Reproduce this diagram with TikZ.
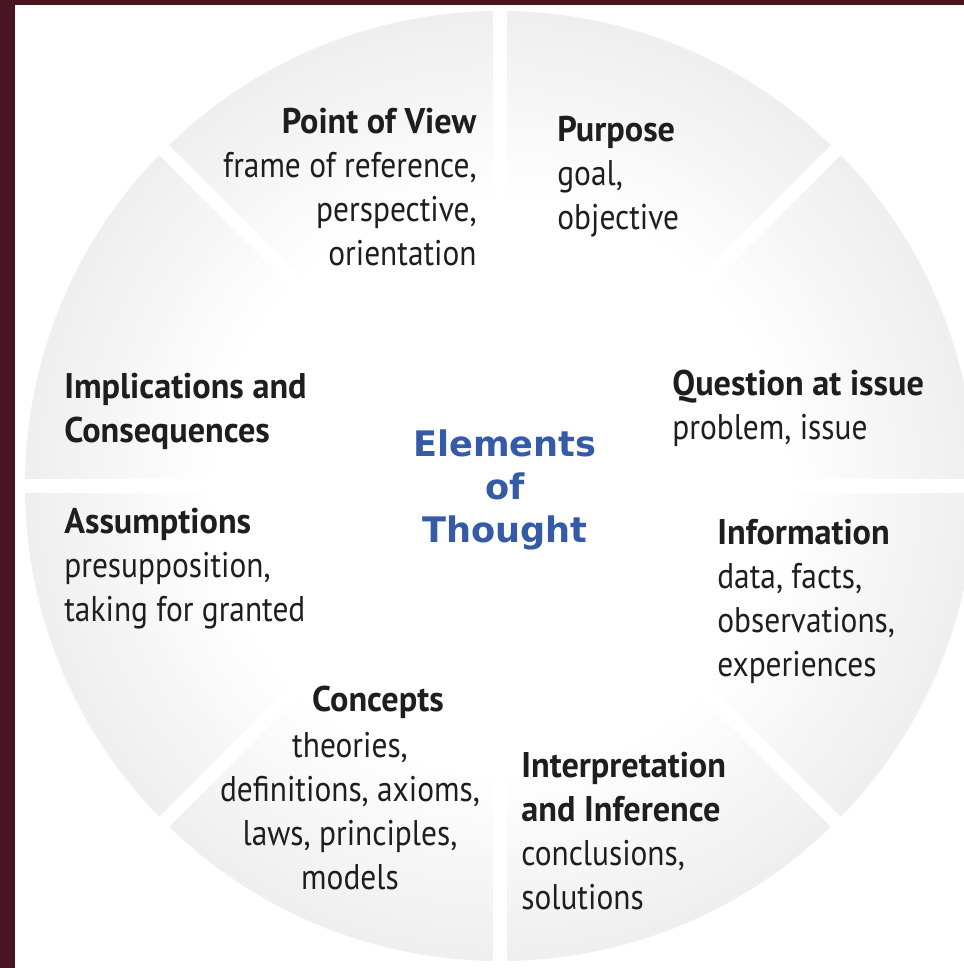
\documentclass[tikz,border=0pt]{standalone}
\usepackage{fontspec}
\setmainfont{PT Sans}[FakeStretch=0.88, BoldFeatures={FakeStretch=0.96}]
\newfontfamily\hubfont{DejaVu Sans}
\definecolor{wine}{RGB}{72,22,32}
\definecolor{ink}{RGB}{30,30,30}
\definecolor{thoughtblue}{RGB}{52,90,168}
\pgfdeclareradialshading{wheelshade}{\pgfpoint{0bp}{0bp}}{%
  color(0bp)=(white); color(15bp)=(white); color(32bp)=(black!11); color(50bp)=(black!27)}

\begin{document}
\begin{tikzpicture}[
        x=0.2mm, y=-0.2mm,
        block/.style={inner sep=0pt, text=ink, font=\fontsize{20.3}{25}\selectfont},
        hub/.style={inner sep=0pt, text=thoughtblue, align=center,
            font=\hubfont\bfseries\fontsize{20}{24.5}\selectfont},
        gap/.style={draw=white, line width=2.8mm},
    ]
    \useasboundingbox (0,0) rectangle (964,968);
    \fill[wine] (0,0) rectangle (964,968);
    \fill[white] (15,5) rectangle (964,968);

    \coordinate (hub) at (500,486);
    \begin{scope}
        \clip (15,5) rectangle (964,968);
        \shade[shading=wheelshade] (hub) circle[radius=95mm];
        % white cuts between the eight segments
        \foreach \a in {0,45,...,315}
            \draw[gap] (hub) -- ++(\a:520);
    \end{scope}

    \node[hub] (elements) at (505,490) {Elements\\of\\Thought};

    \node[block, anchor=north east, align=right] (view) at (477,108)
        {\textbf{Point of View}\\frame of reference,\\perspective,\\orientation};
    \node[block, anchor=north west, align=left] (purpose) at (557,116)
        {\textbf{Purpose}\\goal,\\objective};
    \node[block, anchor=north west, align=left] (question) at (672,370)
        {\textbf{Question at issue}\\problem, issue};
    \node[block, anchor=north west, align=left] (information) at (717,519)
        {\textbf{Information}\\data, facts,\\observations,\\experiences};
    \node[block, anchor=north west, align=left] (inference) at (521,752)
        {\textbf{Interpretation}\\\textbf{and Inference}\\conclusions,\\solutions};
    \node[block, anchor=north] (concepts) at (378,686) {\textbf{Concepts}};
    \node[block, anchor=north, align=center] (theories) at (350,732)
        {theories,\\definitions, axioms,\\laws, principles,\\models};
    \node[block, anchor=north west, align=left] (assumptions) at (64,508)
        {\textbf{Assumptions}\\presupposition,\\taking for granted};
    \node[block, anchor=north west, align=left] (implications) at (64,373)
        {\textbf{Implications and}\\\textbf{Consequences}};
\end{tikzpicture}
\end{document}
